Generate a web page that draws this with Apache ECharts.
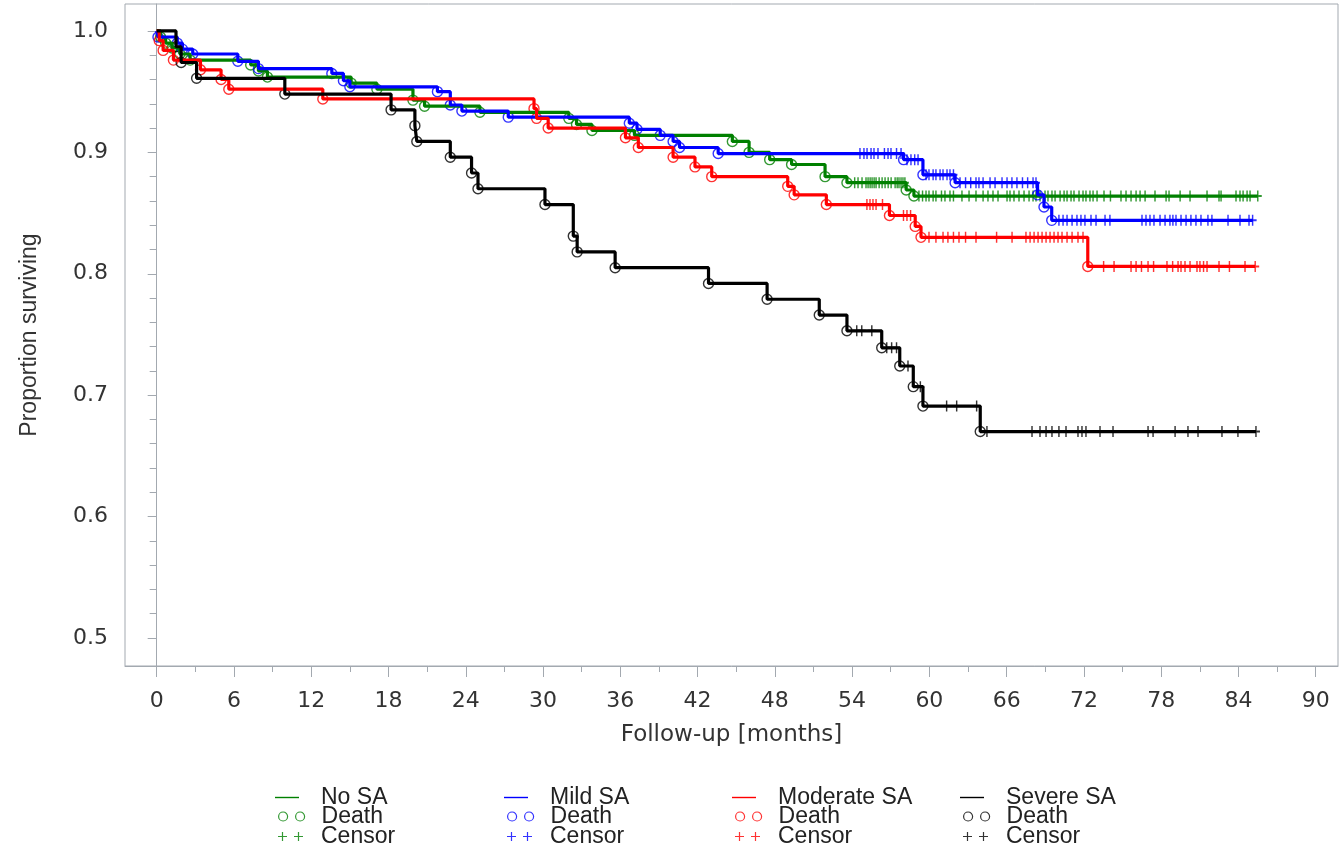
<!DOCTYPE html>
<html>
<head>
<meta charset="utf-8">
<script src="https://cdn.jsdelivr.net/npm/echarts@6/dist/echarts.min.js"></script>
<style>html,body{margin:0;padding:0;background:#fff}#chart{width:1340px;height:847px}</style>
</head>
<body>
<div id="chart"></div>
<script>
// ---------- data ----------
const groupNames = ['No SA', 'Mild SA', 'Moderate SA', 'Severe SA'];
const groupColors = ['#008000', '#0000ff', '#ff0000', '#000000'];

// No SA
const noSaDeathTimes = [0.3, 0.7, 1.2, 1.8, 2.6, 7.3, 7.9, 8.6, 15.1, 17.1, 19.9, 20.8, 25.1, 32.0, 32.6, 33.8, 37.1, 44.7, 46.0, 47.6, 49.3, 51.9, 53.6, 58.2, 58.8];
const noSaDeathSurv  = [0.995, 0.990, 0.986, 0.981, 0.976, 0.972, 0.967, 0.962, 0.957, 0.952, 0.943, 0.938, 0.933, 0.928, 0.923, 0.918, 0.914, 0.909, 0.900, 0.894, 0.890, 0.880, 0.875, 0.869, 0.864];
const noSaCensorTimes = [54.2, 54.46, 54.77, 55.08, 55.24, 55.4, 55.55, 55.71, 55.86, 56.1, 56.33, 56.56, 56.8, 57.03, 57.34, 57.5, 57.64, 57.8, 57.95, 58.1,
  59.19, 59.47, 59.74, 59.97, 60.29, 60.51, 60.94, 61.21, 61.6, 61.87, 62.53, 63.08, 63.62, 64.17, 64.55, 64.94, 65.33, 66.03, 66.26, 66.57, 66.96, 67.35,
  67.74, 68.05, 68.28, 68.59, 68.98, 69.21, 69.52, 69.76, 70.15, 70.46, 70.69, 71.0, 71.23, 71.62, 71.93, 72.16, 72.47, 72.71, 73.02, 73.56, 74.06, 74.88,
  75.27, 75.66, 76.05, 76.36, 76.75, 77.52, 78.38, 78.61, 79.47, 80.24, 81.56, 82.49, 82.65, 83.81, 84.12, 84.36, 84.67, 84.9, 85.5];

// Mild SA
const mildDeathTimes = [0.1, 1.6, 2.0, 2.8, 6.3, 7.9, 13.6, 14.5, 15.0, 21.8, 22.8, 23.7, 27.3, 36.7, 37.3, 39.1, 40.1, 40.6, 43.6, 58.0, 59.5, 62.0, 68.4, 68.9, 69.5];
const mildDeathSurv  = [0.995, 0.990, 0.985, 0.981, 0.975, 0.969, 0.965, 0.959, 0.954, 0.950, 0.939, 0.934, 0.929, 0.924, 0.919, 0.914, 0.909, 0.904, 0.899, 0.894, 0.8815, 0.875, 0.865, 0.855, 0.844];
const mildCensorTimes = [54.61, 54.92, 55.16, 55.47, 55.7, 56.01, 56.51, 56.79, 57.02, 57.45, 57.8,
  58.26, 58.57, 58.86, 59.12,
  59.74, 59.97, 60.29, 60.51, 60.83, 61.06, 61.37, 61.6, 61.87,
  62.38, 62.81, 63.21, 63.62, 63.85, 64.17, 64.71, 65.1, 65.64, 66.03, 66.41, 66.8, 67.23, 67.63, 68.05, 68.28,
  70.06, 70.38, 70.69, 71.08, 71.46, 71.77, 72.08, 72.55, 72.94, 73.64, 74.02, 76.51, 76.82, 77.13, 77.44, 77.91, 78.3, 78.68,
  78.91, 79.15, 79.54, 79.93, 80.31, 80.7, 81.09, 81.63, 81.94, 83.19, 84.12, 84.82, 85.1];

// Moderate SA
const modDeathTimes = [0.2, 0.5, 1.3, 3.4, 5.0, 5.6, 12.9, 29.3, 29.5, 30.4, 36.4, 37.4, 40.1, 41.8, 43.1, 49.0, 49.5, 52.0, 56.9, 58.9, 59.35, 72.3];
const modDeathSurv  = [0.992, 0.984, 0.976, 0.968, 0.960, 0.952, 0.944, 0.936, 0.928, 0.920, 0.912, 0.904, 0.896, 0.888, 0.880, 0.872, 0.865, 0.857, 0.848, 0.839, 0.830, 0.806];
const modCensorTimes = [55.15, 55.39, 55.62, 55.86, 56.36,
  57.99, 58.26, 58.54,
  59.97, 60.51, 61.06, 61.44, 61.87, 62.3, 62.81, 63.62, 65.22, 66.42, 67.5, 67.82, 68.13, 68.44, 68.75, 69.06, 69.37, 69.68, 69.99, 70.3, 70.69, 71.08, 71.54, 71.93,
  73.53, 74.34, 75.66, 76.05, 76.47, 76.98, 77.41, 78.45, 78.89, 79.31, 79.54, 79.85, 80.24, 80.78, 81.01, 81.29, 81.56, 82.49, 83.3, 84.51, 85.3];

// Severe SA
const sevDeathTimes = [1.5, 1.9, 3.1, 9.95, 18.2, 20.05, 20.2, 22.8, 24.45, 24.95, 30.15, 32.35, 32.65, 35.6, 42.85, 47.4, 51.45, 53.6, 56.3, 57.7, 58.75, 59.5, 63.95];
const sevDeathSurv  = [0.987, 0.974, 0.961, 0.948, 0.935, 0.922, 0.909, 0.896, 0.883, 0.870, 0.857, 0.831, 0.818, 0.805, 0.792, 0.779, 0.766, 0.753, 0.739, 0.724, 0.707, 0.691, 0.670];
const sevCensorTimes = [54.36, 54.75, 55.53, 56.69, 57.07, 57.45, 58.34, 59.3, 61.34, 62.12, 63.67,
  64.47, 67.97, 68.59, 69.06, 69.52, 70.06, 70.61, 71.54, 71.85, 72.16, 73.25, 74.26, 76.98, 77.37, 79.08, 80.08, 80.86, 82.72, 83.96, 85.36];

// axis ticks
const xMajorTicks = [0, 6, 12, 18, 24, 30, 36, 42, 48, 54, 60, 66, 72, 78, 84, 90];
const xMinorTicks = [3, 9, 15, 21, 27, 33, 39, 45, 51, 57, 63, 69, 75, 81, 87];
const yMajorTicks = [0.5, 0.6, 0.7, 0.8, 0.9, 1.0];
const yMinorTicks = [0.52, 0.54, 0.56, 0.58, 0.62, 0.64, 0.66, 0.68, 0.72, 0.74, 0.76, 0.78, 0.82, 0.84, 0.86, 0.88, 0.92, 0.94, 0.96, 0.98];
const legendRowLabels = ['', 'Death', 'Censor'];

// ---------- build ----------
const groups = [
  {t: noSaDeathTimes, s: noSaDeathSurv, c: noSaCensorTimes},
  {t: mildDeathTimes, s: mildDeathSurv, c: mildCensorTimes},
  {t: modDeathTimes, s: modDeathSurv, c: modCensorTimes},
  {t: sevDeathTimes, s: sevDeathSurv, c: sevCensorTimes}
];
function survAt(g, time) {
  let v = 1;
  for (let i = 0; i < g.t.length; i++) if (g.t[i] <= time) v = g.s[i];
  return v;
}
const plusSymbol = 'path://M0,4.1H10V5.9H0Z M4.1,0H5.9V10H4.1Z';
const axisColor = '#a3a9b0';
const series = [];
groups.forEach((g, k) => {
  const col = groupColors[k];
  const name = groupNames[k];
  const lastS = g.s[g.s.length - 1];
  const end = Math.max(g.c[g.c.length - 1], g.t[g.t.length - 1]);
  const lineData = [[0, 1]].concat(g.t.map((t, i) => [t, g.s[i]])).concat([[end, lastS]]);
  series.push({
    name: name, type: 'line', step: 'end', data: lineData, symbol: 'none', showSymbol: false,
    color: col, lineStyle: {color: col, width: 3.2}, itemStyle: {color: col}, silent: true, animation: false
  });
  series.push({
    name: name + '|Death', type: 'scatter', data: g.t.map((t, i) => [t, g.s[i]]),
    symbol: 'circle', symbolSize: 10,
    itemStyle: {color: 'rgba(0,0,0,0)', borderColor: col, borderWidth: 1.4}, silent: true, animation: false
  });
  series.push({
    name: name + '|Censor', type: 'scatter', data: g.c.map(t => [t, survAt(g, t)]),
    symbol: plusSymbol, symbolSize: [8, 11],
    itemStyle: {color: col}, silent: true, animation: false
  });
});

const lineIcon = 'path://M0,0M30,10M0,4.3H24V5.7H0Z';
const circleIcon = 'path://M0,0M30,10M3,5A4.5,4.5,0,1,0,12,5A4.5,4.5,0,1,0,3,5Z M20,5A4.5,4.5,0,1,0,29,5A4.5,4.5,0,1,0,20,5Z';
const plusIcon = 'path://M0,0M30,10M3,4.4H12V5.6H3Z M6.9,0.5H8.1V9.5H6.9Z M19,4.4H28V5.6H19Z M22.9,0.5H24.1V9.5H22.9Z';
const legendLefts = [275, 504, 732, 960];
const legendRowCenters = [796, 815, 835];
const legends = [];
groupNames.forEach((name, k) => {
  const col = groupColors[k];
  const items = [
    {name: name, icon: lineIcon, itemStyle: {color: col, borderWidth: 0}},
    {name: name + '|' + legendRowLabels[1], icon: circleIcon, itemStyle: {color: 'rgba(0,0,0,0)', borderColor: col, borderWidth: 1.2}},
    {name: name + '|' + legendRowLabels[2], icon: plusIcon, itemStyle: {color: col, borderWidth: 0}}
  ];
  items.forEach((item, r) => {
    legends.push({
      orient: 'horizontal', left: legendLefts[k], top: legendRowCenters[r] - 10, padding: 0,
      itemWidth: 30, itemHeight: 10, selectedMode: false, symbolKeepAspect: true,
      formatter: n => n.indexOf('|') >= 0 ? n.split('|')[1] : n,
      textStyle: {fontFamily: 'Liberation Sans', fontSize: 23, color: '#222', lineHeight: 20, padding: [0, 0, 0, 11]},
      data: [item]
    });
  });
});

const xMin = -2.46, xMax = 91.73, yMin = 0.4769, yMax = 1.0222;
const tickFont = {fontFamily: 'DejaVu Sans', fontSize: 22, color: '#333'};

const option = {
  animation: false,
  backgroundColor: '#fff',
  grid: {left: 125, top: 4, right: 2, bottom: 181, show: true, borderColor: axisColor, borderWidth: 1, containLabel: false, outerBoundsMode: 'none'},
  legend: legends,
  xAxis: [
    {
      type: 'value', min: xMin, max: xMax, position: 'bottom',
      axisLine: {show: true, lineStyle: {color: axisColor, width: 1}},
      axisTick: {show: true, customValues: xMajorTicks, length: 11, lineStyle: {color: axisColor}},
      axisLabel: Object.assign({customValues: xMajorTicks, margin: 24}, tickFont),
      splitLine: {show: false},
      name: 'Follow-up [months]', nameLocation: 'middle', nameGap: 58,
      nameTextStyle: {fontFamily: 'DejaVu Sans', fontSize: 23, color: '#333'}
    },
    {
      type: 'value', min: xMin, max: xMax, position: 'bottom',
      axisLine: {show: false},
      axisTick: {show: true, customValues: xMinorTicks, length: 6, lineStyle: {color: axisColor}},
      axisLabel: {show: false, customValues: xMinorTicks},
      splitLine: {show: false}
    }
  ],
  yAxis: [
    {
      type: 'value', min: yMin, max: yMax, position: 'left',
      axisLine: {show: true, lineStyle: {color: axisColor, width: 1}},
      axisTick: {show: true, customValues: yMajorTicks, length: 9, lineStyle: {color: axisColor}},
      axisLabel: Object.assign({customValues: yMajorTicks, margin: 17, formatter: v => v.toFixed(1)}, tickFont),
      splitLine: {show: false},
      name: 'Proportion surviving', nameLocation: 'middle', nameGap: 84,
      nameTextStyle: {fontFamily: 'Liberation Sans', fontSize: 23, color: '#333'}
    },
    {
      type: 'value', min: yMin, max: yMax, position: 'left',
      axisLine: {show: false},
      axisTick: {show: true, customValues: yMinorTicks, length: 7, lineStyle: {color: axisColor}},
      axisLabel: {show: false, customValues: yMinorTicks},
      splitLine: {show: false}
    }
  ],
  series: series
};
const chart = echarts.init(document.getElementById('chart'), null, {renderer: 'canvas'});
chart.setOption(option);
</script>
</body>
</html>
